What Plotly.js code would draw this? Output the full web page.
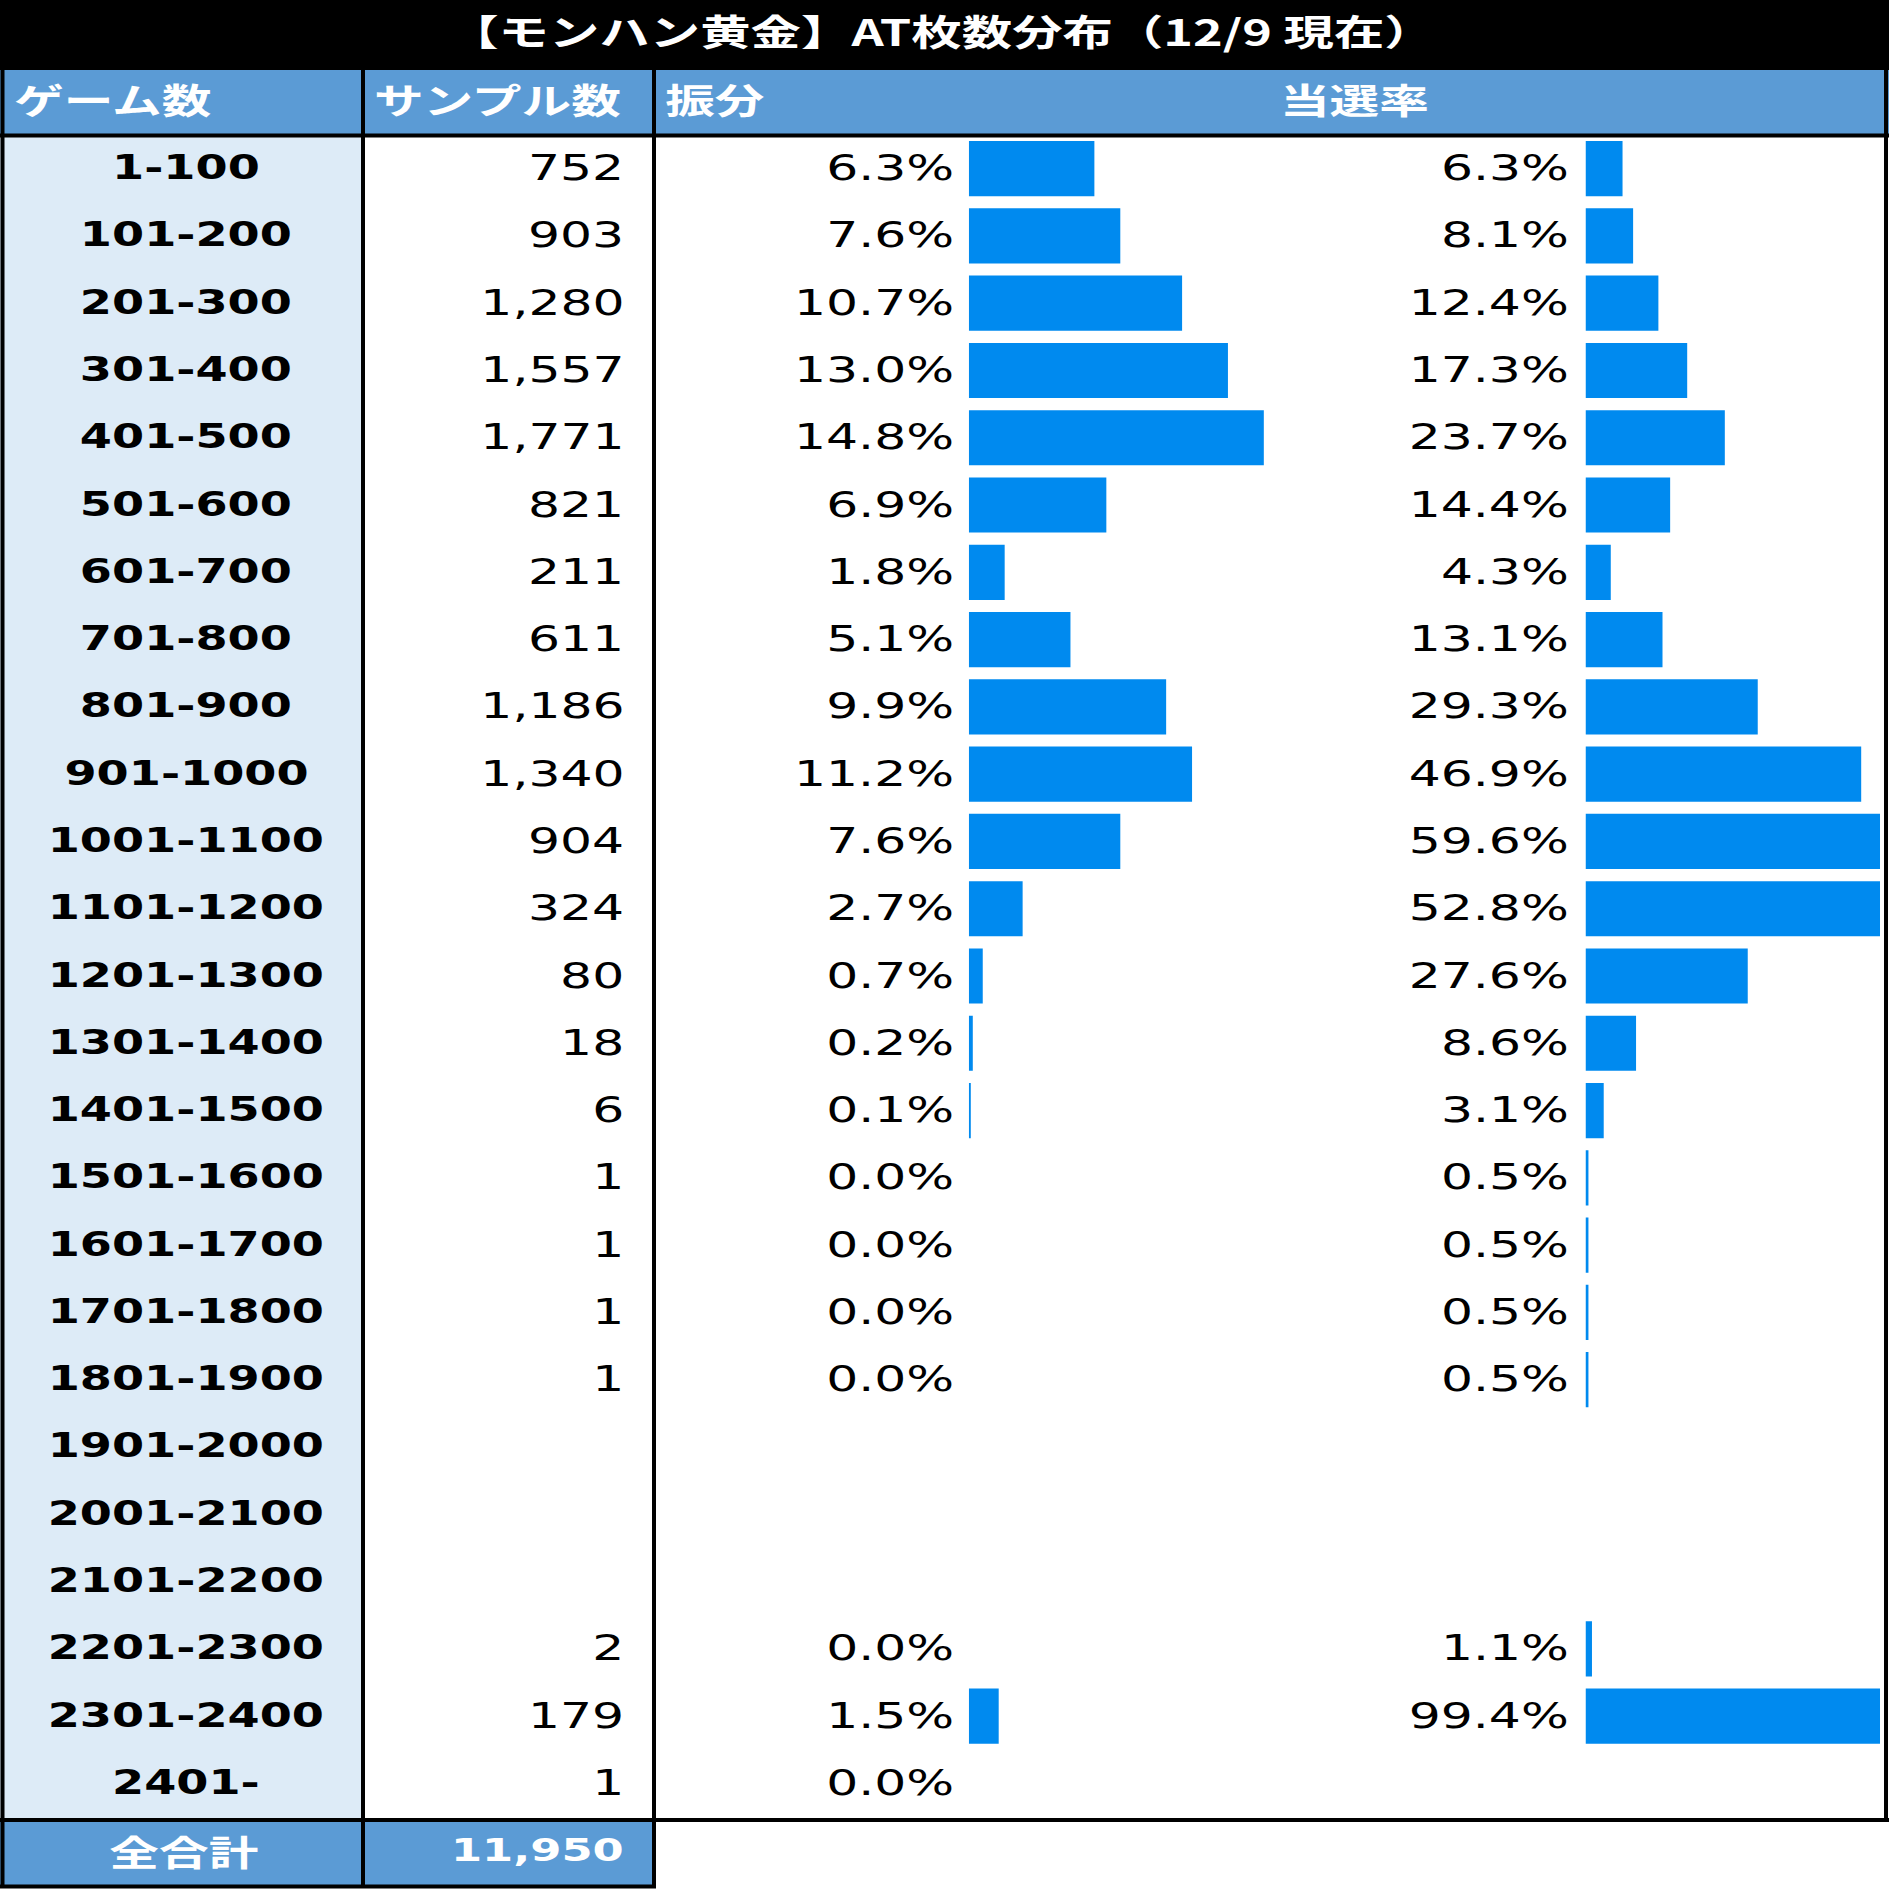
<!DOCTYPE html>
<html>
<head>
<meta charset="utf-8">
<script src="https://cdn.plot.ly/plotly-3.0.1.min.js"></script>
<style>
  html, body { margin: 0; padding: 0; background: #ffffff; overflow: hidden; }
  #chart { width: 1349px; height: 1889px; transform: scaleX(1.40030); transform-origin: 0 0; }
</style>
</head>
<body>
<div id="chart"></div>
<script>
// ---------------- data ----------------
const titleText = '【モンハン黄金】AT枚数分布（12/9 現在）';
const headers = ['ゲーム数', 'サンプル数', '振分', '当選率'];
const games = ['1-100', '101-200', '201-300', '301-400', '401-500', '501-600', '601-700', '701-800',
  '801-900', '901-1000', '1001-1100', '1101-1200', '1201-1300', '1301-1400', '1401-1500',
  '1501-1600', '1601-1700', '1701-1800', '1801-1900', '1901-2000', '2001-2100', '2101-2200',
  '2201-2300', '2301-2400', '2401-'];
const samples = [752, 903, 1280, 1557, 1771, 821, 211, 611, 1186, 1340, 904, 324, 80, 18, 6,
  1, 1, 1, 1, null, null, null, 2, 179, 1];
const share = [6.3, 7.6, 10.7, 13.0, 14.8, 6.9, 1.8, 5.1, 9.9, 11.2, 7.6, 2.7, 0.7, 0.2, 0.1,
  0.0, 0.0, 0.0, 0.0, null, null, null, 0.0, 1.5, 0.0];
const winRate = [6.3, 8.1, 12.4, 17.3, 23.7, 14.4, 4.3, 13.1, 29.3, 46.9, 59.6, 52.8, 27.6, 8.6, 3.1,
  0.5, 0.5, 0.5, 0.5, null, null, null, 1.1, 99.4, null];
const totalLabel = '全合計';
const totalSamples = 11950;

// ---------------- layout helpers ----------------
const W = 1889, H = 1889, S = 1889 / 1349;
const px = x => x / W;
const py = y => 1 - y / H;
const BAR = '#008AEF';
const HEAD = '#5B9BD5';
const LIGHT = '#DDEBF7';
const NUMF = {family: 'DejaVu Sans, Verdana, sans-serif', size: 36, color: '#000000'};
const LABF = {family: 'DejaVu Sans, Verdana, sans-serif', size: 33, color: '#000000', weight: 700};
const JPF = {family: 'Noto Sans CJK JP, sans-serif', size: 35.5, color: '#ffffff', weight: 700};

const fmtInt = v => v.toLocaleString('en-US');
const fmtPct = v => v.toFixed(1) + '%';

const traces = [
  {
    type: 'bar', orientation: 'h', y: games, x: share, xaxis: 'x', yaxis: 'y',
    marker: {color: BAR, line: {width: 0}}, hoverinfo: 'skip', showlegend: false
  },
  {
    type: 'bar', orientation: 'h', y: games, x: winRate, xaxis: 'x2', yaxis: 'y',
    marker: {color: BAR, line: {width: 0}}, hoverinfo: 'skip', showlegend: false
  }
];

const ann = [];
const TY = 1;
games.forEach((g, i) => {
  ann.push({xref: 'paper', yref: 'y', x: px(186), y: g, text: g, showarrow: false,
    xanchor: 'center', yanchor: 'middle', yshift: TY, font: LABF});
  if (samples[i] !== null) ann.push({xref: 'paper', yref: 'y', x: px(627), y: g, text: fmtInt(samples[i]),
    showarrow: false, xanchor: 'right', yanchor: 'middle', yshift: TY, font: NUMF});
  if (share[i] !== null) ann.push({xref: 'paper', yref: 'y', x: px(956), y: g, text: fmtPct(share[i]),
    showarrow: false, xanchor: 'right', yanchor: 'middle', yshift: TY, font: NUMF});
  if (winRate[i] !== null) ann.push({xref: 'paper', yref: 'y', x: px(1571), y: g, text: fmtPct(winRate[i]),
    showarrow: false, xanchor: 'right', yanchor: 'middle', yshift: TY, font: NUMF});
});
// title
ann.push({xref: 'paper', yref: 'paper', x: px(942), y: py(30), text: titleText, showarrow: false,
  xanchor: 'center', yanchor: 'middle', font: Object.assign({}, JPF, {size: 36})});
// headers
ann.push({xref: 'paper', yref: 'paper', x: px(11), y: py(99), text: headers[0], showarrow: false,
  xanchor: 'left', yanchor: 'middle', font: JPF});
ann.push({xref: 'paper', yref: 'paper', x: px(371), y: py(99), text: headers[1], showarrow: false,
  xanchor: 'left', yanchor: 'middle', font: JPF});
ann.push({xref: 'paper', yref: 'paper', x: px(662), y: py(99), text: headers[2], showarrow: false,
  xanchor: 'left', yanchor: 'middle', font: JPF});
ann.push({xref: 'paper', yref: 'paper', x: px(1355), y: py(99), text: headers[3], showarrow: false,
  xanchor: 'center', yanchor: 'middle', font: JPF});
// total row
ann.push({xref: 'paper', yref: 'paper', x: px(184), y: py(1850), text: totalLabel, showarrow: false,
  xanchor: 'center', yanchor: 'middle', font: JPF});
ann.push({xref: 'paper', yref: 'paper', x: px(626), y: py(1850), text: fmtInt(totalSamples), showarrow: false,
  xanchor: 'right', yanchor: 'middle', font: Object.assign({}, LABF, {color: '#ffffff', size: 32})});

const rect = (x0, y0, x1, y1, fill) => ({type: 'rect', xref: 'paper', yref: 'paper', layer: 'below',
  x0: px(x0), x1: px(x1), y0: py(y0), y1: py(y1), fillcolor: fill, line: {width: 0}});
const hline = (y, x0, x1) => ({type: 'line', xref: 'paper', yref: 'paper', layer: 'above',
  x0: px(x0), x1: px(x1), y0: py(y), y1: py(y), line: {color: '#000000', width: 4}});
const vline = (x, y0, y1) => ({type: 'line', xref: 'paper', yref: 'paper', layer: 'above',
  x0: px(x), x1: px(x), y0: py(y0), y1: py(y1), line: {color: '#000000', width: 4 / S}});

const shapes = [
  rect(0, 0, 1889, 70, '#000000'),
  rect(0, 70, 1889, 135, HEAD),
  rect(0, 135, 363, 1820, LIGHT),
  rect(0, 1820, 654, 1887, HEAD),
  hline(135.5, 0, 1889),
  hline(1820, 0, 1889),
  hline(1886.5, 0, 656),
  vline(2.5, 68, 1888),
  vline(1886, 68, 1822),
  vline(363, 68, 1888),
  vline(654, 68, 1888)
];

const layout = {
  width: 1349, height: 1889,
  margin: {l: 0, r: 0, t: 0, b: 0, pad: 0},
  paper_bgcolor: '#ffffff', plot_bgcolor: 'rgba(0,0,0,0)',
  showlegend: false,
  bargap: 0.18,
  xaxis: {domain: [px(968.8), px(1268.8)], range: [0, 15.05], visible: false, fixedrange: true, anchor: 'y'},
  xaxis2: {domain: [px(1585.5), px(1880)], range: [0, 50.1], visible: false, fixedrange: true, anchor: 'y'},
  yaxis: {domain: [py(1817), py(135)], type: 'category', categoryorder: 'array', categoryarray: games,
    range: [24.5, -0.5], visible: false, fixedrange: true},
  shapes: shapes,
  annotations: ann
};

Plotly.newPlot('chart', traces, layout, {staticPlot: true, displayModeBar: false});
</script>
</body>
</html>
